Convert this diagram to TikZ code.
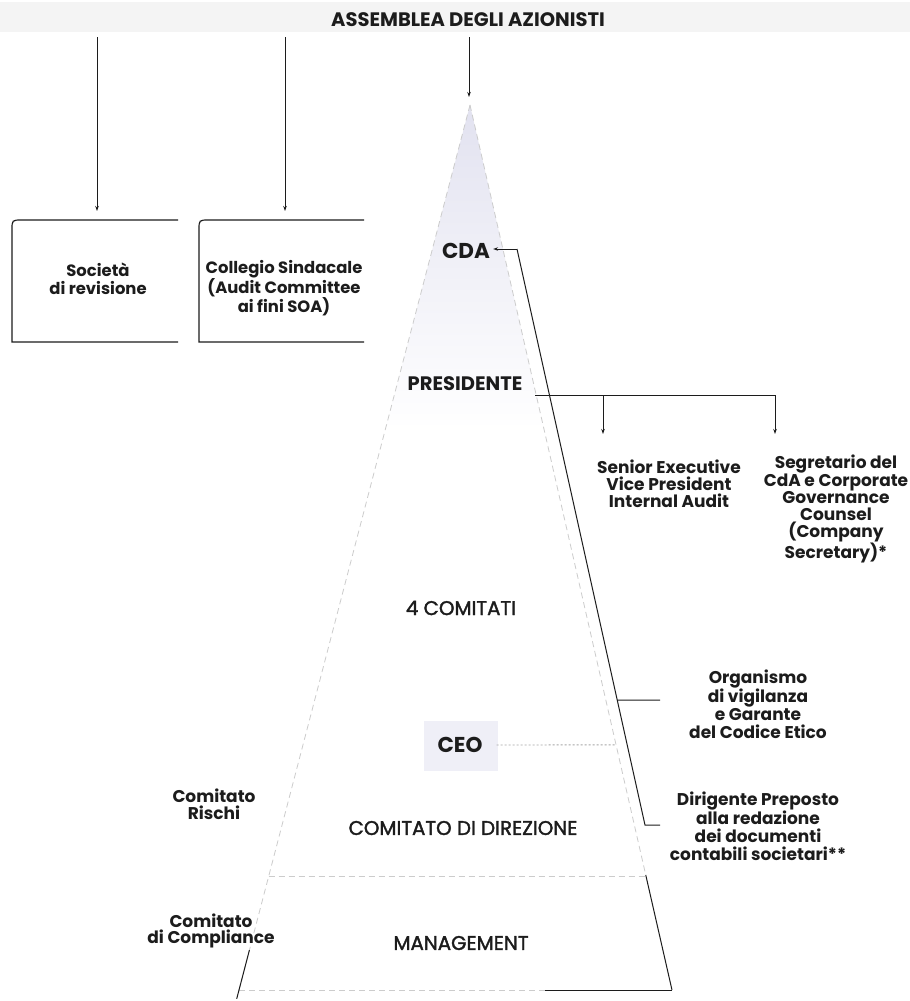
\documentclass[tikz,border=0pt]{standalone}
\usepackage{fontspec}
\setmainfont{Poppins}
\newfontfamily\medfont[FakeBold=1.8]{Poppins}
\usetikzlibrary{arrows.meta,calc}
\definecolor{ink}{HTML}{1C1C1C}
\definecolor{lav}{RGB}{226,226,240}
\tikzset{
 lbl/.style={font=\bfseries\fontsize{17}{16.8}\selectfont, align=center, inner sep=0pt, text=ink},
 lblw/.style={lbl, font=\bfseries\fontsize{17}{18}\selectfont},
 boxlbl/.style={font=\bfseries\fontsize{16.4}{18.5}\selectfont, align=center, inner sep=0pt, text=ink},
 plbl/.style={font=\medfont\fontsize{19.8}{22}\selectfont, align=center, inner sep=0pt, text=ink},
 toplbl/.style={font=\bfseries\fontsize{19.5}{22}\selectfont, inner sep=0pt, text=ink},
 big/.style={font=\bfseries\fontsize{21.5}{24}\selectfont, inner sep=0pt, text=ink},
 conn/.style={draw=ink, line width=1pt},
 arr/.style={conn, -{Stealth[length=5pt,width=3.5pt]}},
 faint/.style={draw=gray!40, line width=0.8pt, dash pattern=on 6pt off 4pt},
 dotln/.style={draw=gray!70, line width=0.9pt, dash pattern=on 2pt off 2pt},
 boxline/.style={draw=ink, line width=1.2pt},
}
\begin{document}
\begin{tikzpicture}[x=1pt,y=-1pt]
\useasboundingbox (0,0) rectangle (910,1001);
\fill[white] (0,0) rectangle (910,1001);
\fill[gray!9] (0,2) rectangle (910,32);
% pyramid
\coordinate (apex) at (470,105);
\coordinate (bl) at (239,990);
\coordinate (br) at (672,990);
\begin{scope}
\clip (apex) -- (bl) -- (br) -- cycle;
\shade[top color=lav, bottom color=white] (230,105) rectangle (680,430);
\end{scope}
\draw[faint] (apex) -- (bl);
\draw[faint] (apex) -- ($(apex)!0.87!(br)$);
\draw[conn] ($(apex)!0.87!(br)$) -- (br);
\draw[faint] (bl) -- (br);
\draw[conn] (545,990) -- (br);
\draw[conn] ($(apex)!0.955!(bl)$) -- ($(apex)!1.01!(bl)$);
\draw[faint] ($(apex)!0.872!(bl)$) -- ($(apex)!0.872!(br)$);
% CEO background
\fill[lav!55] (424,721) rectangle (498,771);
% title
\node[toplbl] (title) at (468,20) {ASSEMBLEA DEGLI AZIONISTI};
\coordinate (t1) at (97,37);  \coordinate (t1e) at (97,211);
\coordinate (t2) at (285,37); \coordinate (t2e) at (285,211);
\coordinate (t3) at (469,37); \coordinate (t3e) at (469,97);
\draw[arr] (t1) -- (t1e);
\draw[arr] (t2) -- (t2e);
\draw[arr] (t3) -- (t3e);
% boxes
\draw[boxline] (178,220) -- (22,220) .. controls (12,220) .. (12,230) -- (12,342) -- (178,342);
\draw[boxline] (364,220) -- (209,220) .. controls (199,220) .. (199,230) -- (199,342) -- (364,342);
\node[boxlbl] (soc) at (98,279) {Società\\di revisione};
\node[boxlbl] (coll) at (284,288) {Collegio Sindacale\\(Audit Committee\\ai fini SOA)};
% pyramid labels
\node[big] (cda) at (466,251) {CDA};
\node[toplbl] (pres) at (465,384) {PRESIDENTE};
\node[plbl] (com4) at (461,608) {4 COMITATI};
\node[big] (ceo) at (460,745) {CEO};
\node[plbl] (cdd) at (463,828) {COMITATO DI DIREZIONE};
\node[plbl] (mgmt) at (461,943) {MANAGEMENT};
% side labels
\node[lbl] (sevp) at (669,484) {Senior Executive\\Vice President\\Internal Audit};
\node[lbl] (segr) at (836,509) {Segretario del\\CdA e Corporate\\Governance\\Counsel\\(Company\\Secretary)*};
\node[lblw] (org) at (758,704) {Organismo\\di vigilanza\\e Garante\\del Codice Etico};
\node[lblw] (dir) at (758,826) {Dirigente Preposto\\alla redazione\\dei documenti\\contabili societari**};
\node[lbl] (ris) at (214,804) {Comitato\\Rischi};
\node[lbl] (cpl) at (211,931) {Comitato\\di Compliance};
% presidente connectors
\coordinate (p0) at (535,395);
\coordinate (p1) at (603,395);
\coordinate (p2) at (775,395);
\draw[conn] (p0) -- (p2);
\draw[arr] (p1) -- (p1 |- 0,434);
\draw[arr] (p2) -- (p2 |- 0,434);
% CDA line
\coordinate (k) at (517,249);
\coordinate (kd) at (645,825);
\draw[arr] (k) -- ([xshift=3pt]cda.east |- k);
\draw[conn] (k) -- (kd) -- (660,825);
\draw[conn] ($(k)!0.783!(kd)$) -- (660,700);
% CEO dotted
\draw[dotln] ([xshift=14pt]ceo.east) -- ($(apex)!0.723!(br)$);
\end{tikzpicture}
\end{document}
